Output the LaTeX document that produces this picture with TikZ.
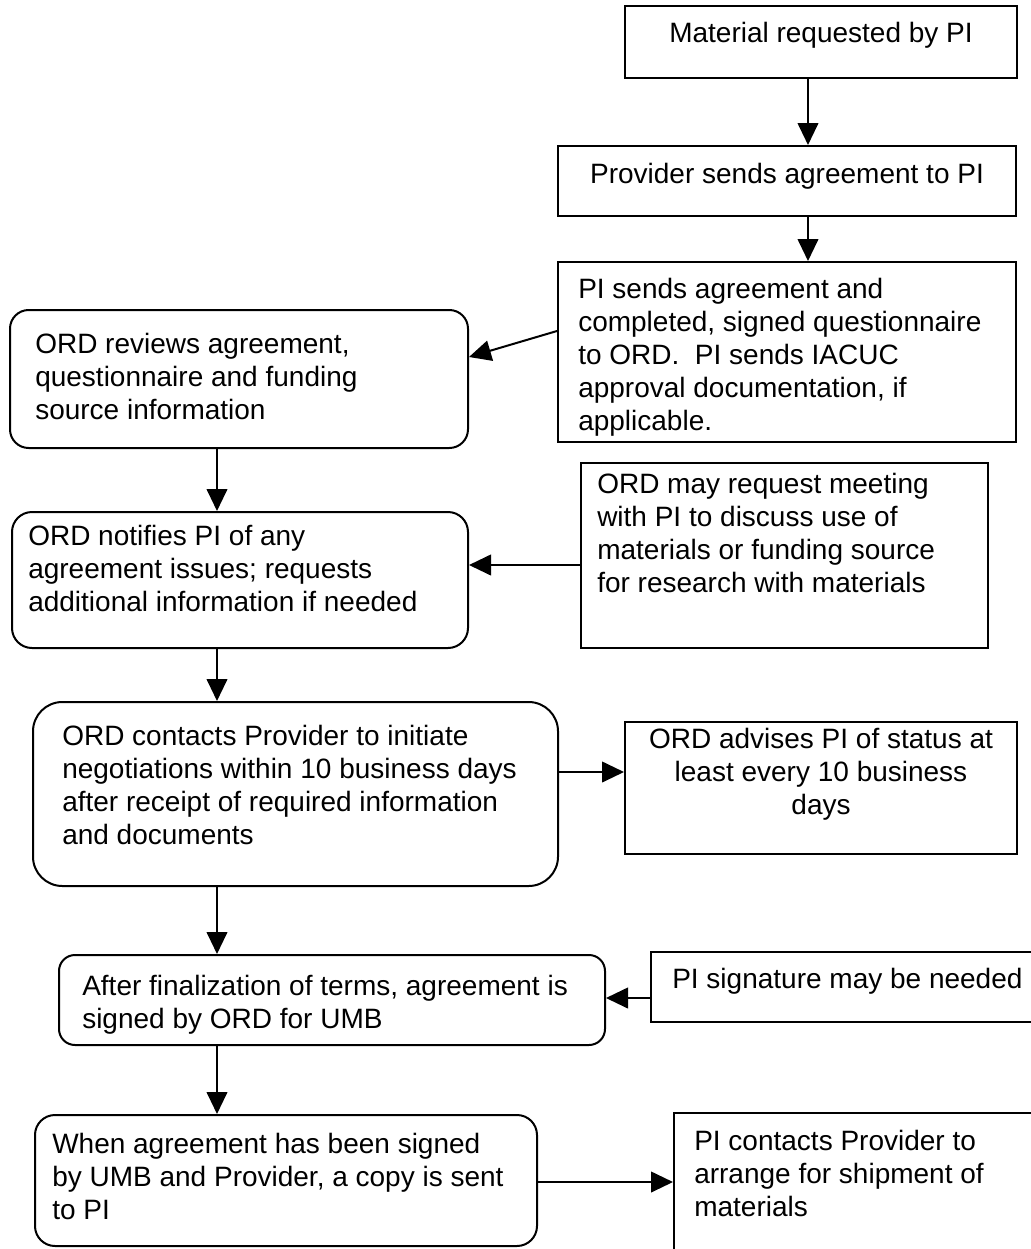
\documentclass[tikz,border=0pt]{standalone}
\usepackage{fontspec}
\setmainfont{Liberation Sans}
\usetikzlibrary{arrows.meta,fit}
\begin{document}
\begin{tikzpicture}[
  x=0.75pt, y=-0.75pt,
  sqbox/.style={draw, line width=1.5pt, inner sep=0pt, rectangle},
  rbox/.style={draw, line width=1.5pt, inner sep=0pt, rectangle, rounded corners=#1},
  rbox/.default=15pt,
  arr/.style={line width=1.5pt, -{Triangle[length=16.5pt,width=15.5pt]}},
  txt/.style={inner sep=0pt, align=left, anchor=north west,
              font=\fontsize{21pt}{24.75pt}\selectfont},
  ctxt/.style={txt, align=center, anchor=north}
]
\useasboundingbox (0,0) rectangle (1031,1249);
\clip (0,0) rectangle (1031,1249);

% process boxes
\node[sqbox, fit={(625,6) (1017,78)}] (b1) {};
\node[sqbox, fit={(558,146) (1016,216)}] (b2) {};
\node[sqbox, fit={(558,262) (1016,442)}] (b3) {};
\node[rbox=14pt, fit={(10,310) (468,448)}] (b4) {};
\node[rbox=15pt, fit={(12,512) (468,648)}] (b5) {};
\node[sqbox, fit={(581,463) (988,648)}] (b6) {};
\node[rbox=22pt, fit={(33,702) (558,886)}] (b7) {};
\node[sqbox, fit={(625,722) (1017,854)}] (b8) {};
\node[rbox=12pt, fit={(59,955) (605,1045)}] (b9) {};
\node[sqbox, fit={(651,952) (1060,1022)}] (b10) {};
\node[rbox=15pt, fit={(35,1115) (537,1246)}] (b11) {};
\node[sqbox, fit={(674,1113) (1060,1280)}] (b12) {};

% box texts
\node[ctxt] (t1) at (821,21.5) {Material requested by PI};
\node[ctxt] (t2) at (787,162.5) {Provider sends agreement to PI};
\node[txt] (t3) at (578,277.5) {PI sends agreement and\\completed, signed questionnaire\\to ORD.\ \ PI sends IACUC\\approval documentation, if\\applicable.};
\node[txt] (t4) at (35,332.5) {ORD reviews agreement,\\questionnaire and funding\\source information};
\node[txt] (t5) at (28,524.5) {ORD notifies PI of any\\agreement issues; requests\\additional information if needed};
\node[txt] (t6) at (597,472.5) {ORD may request meeting\\with PI to discuss use of\\materials or funding source\\for research with materials};
\node[txt] (t7) at (62,724.5) {ORD contacts Provider to initiate\\negotiations within 10 business days\\after receipt of required information\\and documents};
\node[ctxt] (t8) at (821,727.5) {ORD advises PI of status at\\least every 10 business\\days};
\node[txt] (t9) at (82,974.5) {After finalization of terms, agreement is\\signed by ORD for UMB};
\node[txt] (t10) at (672,967.5) {PI signature may be needed};
\node[txt] (t11) at (52,1132.5) {When agreement has been signed\\by UMB and Provider, a copy is sent\\to PI};
\node[txt] (t12) at (694,1129.5) {PI contacts Provider to\\arrange for shipment of\\materials};

% connector columns and rows
\coordinate (colR) at (808,0);
\coordinate (colL) at (217,0);
\coordinate (r3a) at (0,331);
\coordinate (r3b) at (0,357);
\coordinate (r6) at (0,565);
\coordinate (r7) at (0,772);
\coordinate (r10) at (0,998);
\coordinate (r11) at (0,1182);

% connectors
\draw[arr] (b1.south -| colR) -- (b2.north -| colR);
\draw[arr] (b2.south -| colR) -- (b3.north -| colR);
\draw[arr] (b3.west |- r3a) -- (b4.east |- r3b);
\draw[arr] (b4.south -| colL) -- (b5.north -| colL);
\draw[arr] (b6.west |- r6) -- (b5.east |- r6);
\draw[arr] (b5.south -| colL) -- (b7.north -| colL);
\draw[arr] (b7.east |- r7) -- (b8.west |- r7);
\draw[arr] (b7.south -| colL) -- (b9.north -| colL);
\draw[arr] (b10.west |- r10) -- (b9.east |- r10);
\draw[arr] (b9.south -| colL) -- (b11.north -| colL);
\draw[arr] (b11.east |- r11) -- (b12.west |- r11);
\end{tikzpicture}
\end{document}
